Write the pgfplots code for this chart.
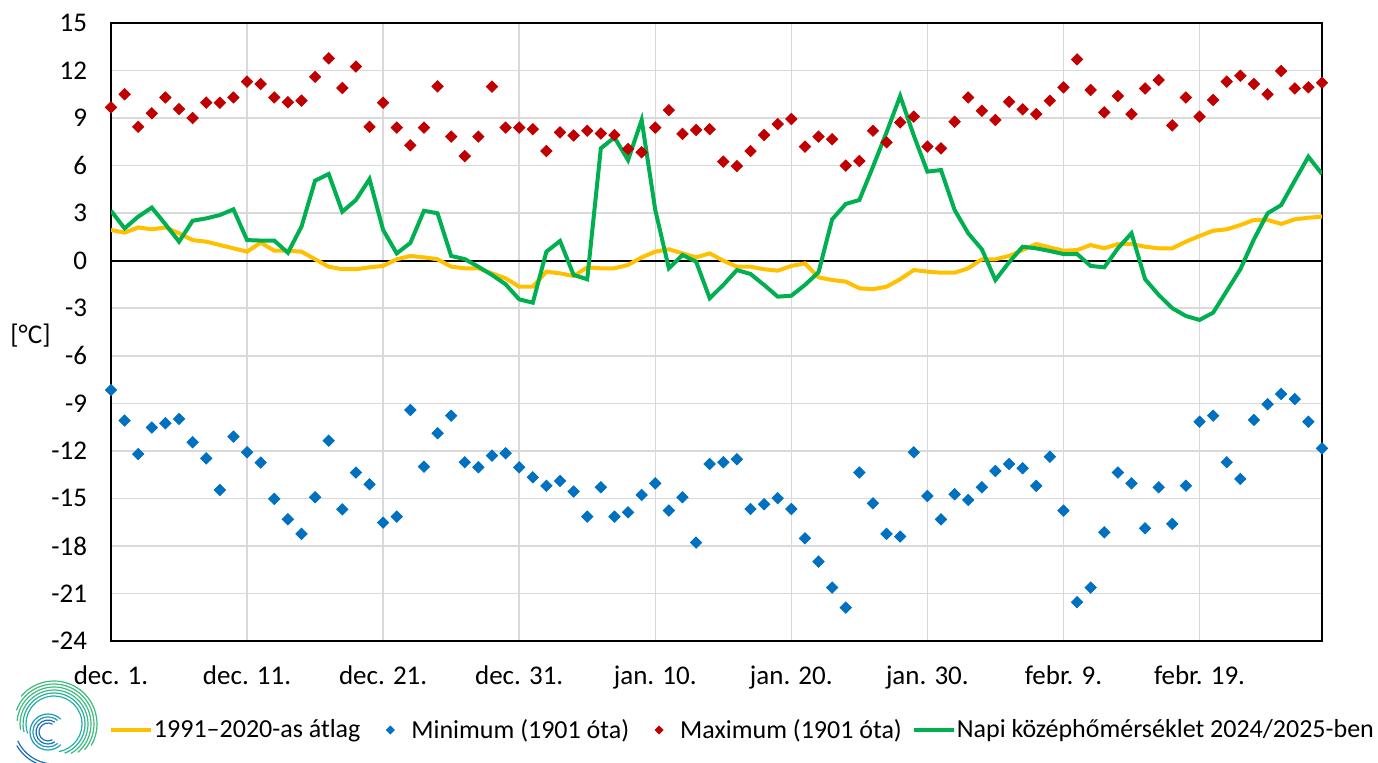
\documentclass[border=0pt]{standalone}
\usepackage{fontspec}
\setmainfont{Carlito}
\usepackage{pgfplots}
\usepackage{pgfplotstable}
\pgfplotsset{compat=1.18}
\definecolor{avgc}{HTML}{FFC000}
\definecolor{minc}{HTML}{0070C0}
\definecolor{maxc}{HTML}{C00000}
\definecolor{meanc}{HTML}{00B050}
\definecolor{gridc}{HTML}{D9D9D9}
\definecolor{lg1}{HTML}{1F6FB5}
\definecolor{lg2}{HTML}{1E9BB5}
\definecolor{lg3}{HTML}{25B0A0}
\definecolor{lg4}{HTML}{3DBB7E}

\pgfplotstableread{
d avg min max mean
0 1.94 -8.16 9.68 3.15
1 1.77 -10.09 10.5 2.04
2 2.1 -12.2 8.45 2.78
3 1.98 -10.53 9.3 3.35
4 2.1 -10.26 10.3 2.3
5 1.73 -9.99 9.57 1.2
6 1.3 -11.46 9.0 2.52
7 1.2 -12.47 9.97 2.67
8 0.99 -14.47 9.97 2.88
9 0.78 -11.1 10.3 3.24
10 0.57 -12.09 11.3 1.3
11 1.14 -12.74 11.15 1.27
12 0.63 -15.03 10.3 1.27
13 0.63 -16.32 10.0 0.5
14 0.57 -17.24 10.1 2.15
15 0.09 -14.93 11.6 5.05
16 -0.38 -11.36 12.77 5.47
17 -0.54 -15.69 10.9 3.09
18 -0.54 -13.37 12.25 3.83
19 -0.42 -14.11 8.45 5.15
20 -0.33 -16.53 9.97 1.94
21 0.09 -16.15 8.4 0.46
22 0.3 -9.42 7.28 1.12
23 0.21 -13.0 8.4 3.15
24 0.09 -10.89 11.0 2.99
25 -0.38 -9.78 7.83 0.3
26 -0.48 -12.72 6.6 0.1
27 -0.48 -13.04 7.83 -0.38
28 -0.8 -12.3 10.98 -0.9
29 -1.11 -12.15 8.4 -1.49
30 -1.64 -13.04 8.4 -2.44
31 -1.64 -13.67 8.3 -2.65
32 -0.69 -14.21 6.92 0.57
33 -0.8 -13.9 8.1 1.24
34 -0.97 -14.57 7.9 -0.9
35 -0.42 -16.15 8.2 -1.17
36 -0.48 -14.3 8.03 7.09
37 -0.48 -16.15 7.93 7.78
38 -0.27 -15.88 7.05 6.35
39 0.21 -14.78 6.84 8.88
40 0.57 -14.05 8.4 3.2
41 0.72 -15.77 9.5 -0.48
42 0.46 -14.93 8.0 0.36
43 0.21 -17.79 8.25 -0.06
44 0.46 -12.83 8.3 -2.37
45 0.0 -12.72 6.25 -1.53
46 -0.38 -12.53 5.97 -0.59
47 -0.38 -15.67 6.92 -0.84
48 -0.54 -15.37 7.93 -1.53
49 -0.63 -14.99 8.62 -2.27
50 -0.33 -15.67 8.94 -2.21
51 -0.17 -17.52 7.2 -1.53
52 -1.05 -18.99 7.83 -0.73
53 -1.22 -20.63 7.66 2.61
54 -1.32 -21.89 6.0 3.58
55 -1.74 -13.37 6.29 3.83
56 -1.8 -15.31 8.2 5.93
57 -1.64 -17.24 7.47 8.1
58 -1.17 -17.41 8.73 10.39
59 -0.59 -12.09 9.09 7.9
60 -0.69 -14.85 7.2 5.62
61 -0.76 -16.32 7.09 5.72
62 -0.76 -14.74 8.77 3.2
63 -0.48 -15.1 10.3 1.73
64 0.09 -14.3 9.46 0.72
65 0.09 -13.27 8.88 -1.22
66 0.3 -12.83 10.03 -0.1
67 0.67 -13.1 9.55 0.88
68 1.05 -14.21 9.25 0.78
69 0.84 -12.37 10.1 0.61
70 0.63 -15.77 10.94 0.42
71 0.67 -21.55 12.7 0.42
72 0.99 -20.63 10.77 -0.33
73 0.78 -17.14 9.36 -0.42
74 1.05 -13.37 10.39 0.78
75 1.05 -14.05 9.25 1.73
76 0.88 -16.89 10.87 -1.17
77 0.78 -14.3 11.4 -2.16
78 0.78 -16.61 8.54 -3.0
79 1.2 -14.2 10.3 -3.49
80 1.56 -10.16 9.09 -3.74
81 1.89 -9.78 10.14 -3.28
82 1.98 -12.72 11.3 -1.91
83 2.25 -13.77 11.67 -0.54
84 2.57 -10.05 11.15 1.35
85 2.57 -9.06 10.5 2.99
86 2.32 -8.41 11.97 3.51
87 2.61 -8.73 10.87 5.05
88 2.71 -10.16 10.94 6.56
89 2.78 -11.84 11.23 5.47
}\data

\begin{document}
\begin{tikzpicture}[font=\fontsize{13.5bp}{16bp}\selectfont]
\useasboundingbox (0,0) rectangle (689bp,381.5bp);
\begin{axis}[
  at={(55.5bp,61bp)}, anchor=south west,
  scale only axis, width=605.5bp, height=309bp,
  xmin=0, xmax=89, ymin=-24, ymax=15,
  ytick={-24,-21,...,15},
  yticklabels={-24,-21,-18,-15,-12,-9,-6,-3,0,3,6,9,12,15},
  xtick={0,10,...,80},
  xticklabels={dec. 1.,dec. 11.,dec. 21.,dec. 31.,jan. 10.,jan. 20.,jan. 30.,febr. 9.,febr. 19.},
  extra y ticks={0}, extra y tick labels={},
  extra y tick style={grid=major, major grid style={black, line width=1bp}},
  grid=major,
  major grid style={gridc, line width=0.75bp},
  axis line style={black, line width=0.9bp},
  major tick length=0pt,
  xticklabel style={text height=9.5bp, text depth=3bp, yshift=-8.5bp},
  yticklabel style={xshift=-8.5bp},
  ylabel={[°C]},
  ylabel style={rotate=-90, at={(axis description cs:-0.0665,0.495)}, anchor=center},
  legend columns=-1,
  legend style={draw=none, fill=none, at={(0.521,-0.144)}, anchor=center,
    font=\fontsize{13bp}{15bp}\selectfont,
    nodes={inner xsep=0.5bp},
    /tikz/every even column/.append style={column sep=4.5bp}},
  legend image code/.code={\path[draw=none,fill=none] (0bp,0bp) -- (20bp,0bp);
    \draw[mark repeat=2,mark phase=2,#1] plot coordinates {(0bp,0bp)(10bp,0bp)(20bp,0bp)};},
  legend image post style={mark size=1.4bp},
]
\addplot[avgc, line width=2bp] table[x=d,y=avg]{\data};
\addlegendentry{1991–2020-as átlag}
\addplot[only marks, mark=square*, mark size=2bp, mark options={rotate=45, fill=minc, draw=minc}] table[x=d,y=min]{\data};
\addlegendentry{Minimum (1901 óta)}
\addplot[only marks, mark=square*, mark size=2bp, mark options={rotate=45, fill=maxc, draw=maxc}] table[x=d,y=max]{\data};
\addlegendentry{Maximum (1901 óta)}
\addplot[meanc, line width=2bp] table[x=d,y=mean]{\data};
\addlegendentry{Napi középhőmérséklet 2024/2025-ben}
\end{axis}
% logo (decorative swirl)
\begin{scope}[shift={(27bp,19.5bp)}]
 \foreach \r/\s/\e/\c in {14/-80/200/lg3, 15.5/-70/195/lg3, 17/-60/190/lg4, 18.5/-50/175/lg4, 20/-40/160/lg4, 21.5/-30/140/lg4}
   \draw[\c, line width=0.6bp] (\s:\r bp) arc[start angle=\s, end angle=\e, radius=\r bp];
 \draw[lg1, line width=0.6bp] (205:20bp) arc[start angle=205, end angle=265, radius=20bp];
 \draw[lg1, line width=0.6bp] (210:21.5bp) arc[start angle=210, end angle=260, radius=21.5bp];
\end{scope}
\begin{scope}[shift={(24bp,15.5bp)}]
 \foreach \r/\s/\e/\c in {4.5/60/300/lg1, 6/55/305/lg1, 7.5/50/310/lg2, 9/45/315/lg2}
   \draw[\c, line width=0.6bp] (\s:\r bp) arc[start angle=\s, end angle=\e, radius=\r bp];
\end{scope}
\end{tikzpicture}
\end{document}
